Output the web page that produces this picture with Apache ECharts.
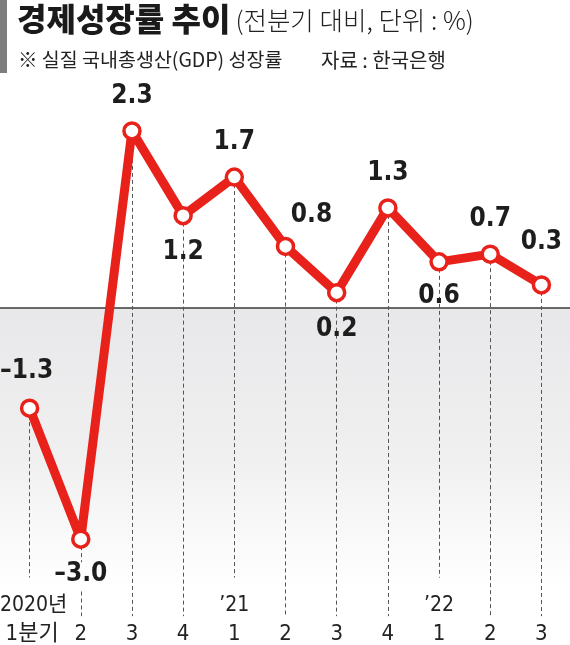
<!DOCTYPE html>
<html>
<head>
<meta charset="utf-8">
<script src="https://cdn.jsdelivr.net/npm/echarts@6/dist/echarts.min.js"></script>
<style>
  html, body { margin: 0; padding: 0; background: #fff; }
  #chart { width: 570px; height: 645px; }
</style>
</head>
<body>
<div id="chart"></div>
<script>
// 분기별 경제성장률 (전분기 대비, %)
const quarters = ['1분기', '2', '3', '4', '1', '2', '3', '4', '1', '2', '3']
const years = ['2020년', '', '', '', '’21', '', '', '', '’22', '', '']
const growth = [-1.3, -3.0, 2.3, 1.2, 1.7, 0.8, 0.2, 1.3, 0.6, 0.7, 0.3]

const RED = '#e8221b'
const NUM_FONT = "'DejaVu Sans Condensed', 'Noto Sans CJK KR', sans-serif"
const KR_FONT = "'Noto Sans CJK KR', sans-serif"
const Y_MIN = -4.05
const Y_MAX = 2.5

// 라벨 위치 (스타일)
const labelStyle = [
  { position: 'top', distance: 14, offset: [-3, 0] },
  { position: 'bottom', distance: 12 },
  { position: 'top', distance: 12 },
  { position: 'bottom', distance: 14 },
  { position: 'top', distance: 12 },
  { position: 'top', distance: 8, offset: [26, 0] },
  { position: 'bottom', distance: 14 },
  { position: 'top', distance: 12 },
  { position: 'bottom', distance: 12 },
  { position: 'top', distance: 12 },
  { position: 'top', distance: 20 }
]

const fmt = v => (v < 0 ? '–' + Math.abs(v).toFixed(1) : v.toFixed(1))

const chart = echarts.init(document.getElementById('chart'))

// 점선 (점에서 아래로)
const dropLines = []
growth.forEach((v, i) => {
  const hasYear = years[i] !== ''
  if (i === 1) {
    dropLines.push([{ coord: [i, v] }, { coord: [i, -3.3] }])
    dropLines.push([{ coord: [i, -3.68] }, { coord: [i, -4.0] }])
  } else {
    dropLines.push([{ coord: [i, v] }, { coord: [i, hasYear ? -3.5 : -4.0] }])
  }
})

// 첫 라벨은 왼쪽 끝에 붙도록 살짝 오른쪽으로
const shiftFirst = (arr, pad) => arr.map((s, i) =>
  i === 0 ? { value: s, textStyle: { padding: [0, 0, 0, pad] } } : s)

const option = {
  animation: false,
  title: [
    {
      left: 17,
      top: 0,
      padding: 0,
      text: '{a|경제성장률 추이} {b|(전분기 대비, 단위 : %)}',
      textStyle: {
        rich: {
          a: { fontFamily: KR_FONT, fontSize: 32, fontWeight: 900, color: '#1a1a1a', lineHeight: 38 },
          b: { fontFamily: KR_FONT, fontSize: 25.5, fontWeight: 300, color: '#222', lineHeight: 38, padding: [2, 0, 0, 0] }
        }
      }
    },
    {
      left: 18,
      top: 50,
      padding: 0,
      text: '※ 실질 국내총생산(GDP) 성장률',
      textStyle: { fontFamily: KR_FONT, fontSize: 19.5, fontWeight: 400, color: '#222' }
    },
    {
      left: 321,
      top: 50,
      padding: 0,
      text: '자료 : 한국은행',
      textStyle: { fontFamily: KR_FONT, fontSize: 20, fontWeight: 400, color: '#222' }
    }
  ],
  grid: { left: 4, right: 3, top: 115.5, bottom: 25, outerBoundsMode: 'none', containLabel: false },
  xAxis: [
    {
      type: 'category',
      data: shiftFirst(quarters, 5),
      position: 'bottom',
      axisLine: { show: false },
      axisTick: { show: false },
      axisLabel: { interval: 0, margin: 3, fontFamily: NUM_FONT, fontSize: 22, color: '#222' }
    },
    {
      type: 'category',
      data: shiftFirst(years, 8),
      position: 'bottom',
      axisLine: { show: false },
      axisTick: { show: false },
      axisLabel: { inside: true, interval: 0, margin: 4, fontFamily: NUM_FONT, fontSize: 21, color: '#222' }
    }
  ],
  yAxis: {
    type: 'value',
    min: Y_MIN,
    max: Y_MAX,
    show: false,
    splitLine: { show: false }
  },
  series: [
    {
      type: 'line',
      data: growth,
      z: 1,
      symbol: 'none',
      lineStyle: { opacity: 0 },
      silent: true,
      markLine: {
        silent: true,
        symbol: 'none',
        label: { show: false },
        lineStyle: { type: [4, 3], color: '#555', width: 1 },
        data: dropLines
      }
    },
    {
      type: 'line',
      z: 5,
      data: growth.map((v, i) => ({
        value: v,
        label: Object.assign({}, labelStyle[i])
      })),
      symbol: 'circle',
      symbolSize: 16,
      lineStyle: { color: RED, width: 9 },
      itemStyle: { color: '#fff', borderColor: RED, borderWidth: 3.5 },
      label: {
        show: true,
        formatter: p => fmt(p.value),
        fontFamily: NUM_FONT,
        fontWeight: 'bold',
        fontSize: 26,
        color: '#1d1d1d'
      }
    }
  ]
}

chart.setOption(option)

// 0선 아래 회색 영역과 0선
const y0 = chart.convertToPixel({ yAxisIndex: 0 }, 0)
const yBottom = chart.convertToPixel({ yAxisIndex: 0 }, -3.6)
chart.setOption({
  graphic: [
    {
      type: 'rect',
      left: 0,
      top: 0,
      shape: { width: 7, height: 73 },
      style: { fill: '#7d7d7d' }
    },
    {
      type: 'rect',
      z: -10,
      shape: { x: 0, y: y0, width: 570, height: yBottom - y0 },
      style: {
        fill: new echarts.graphic.LinearGradient(0, 0, 0, 1, [
          { offset: 0, color: '#e8e8ea' },
          { offset: 0.55, color: '#f0f0f1' },
          { offset: 1, color: '#ffffff' }
        ])
      },
      silent: true
    },
    {
      type: 'line',
      z: 0,
      shape: { x1: 0, y1: y0, x2: 570, y2: y0 },
      style: { stroke: '#3a3a3a', lineWidth: 1.5 },
      silent: true
    }
  ]
})
</script>
</body>
</html>
